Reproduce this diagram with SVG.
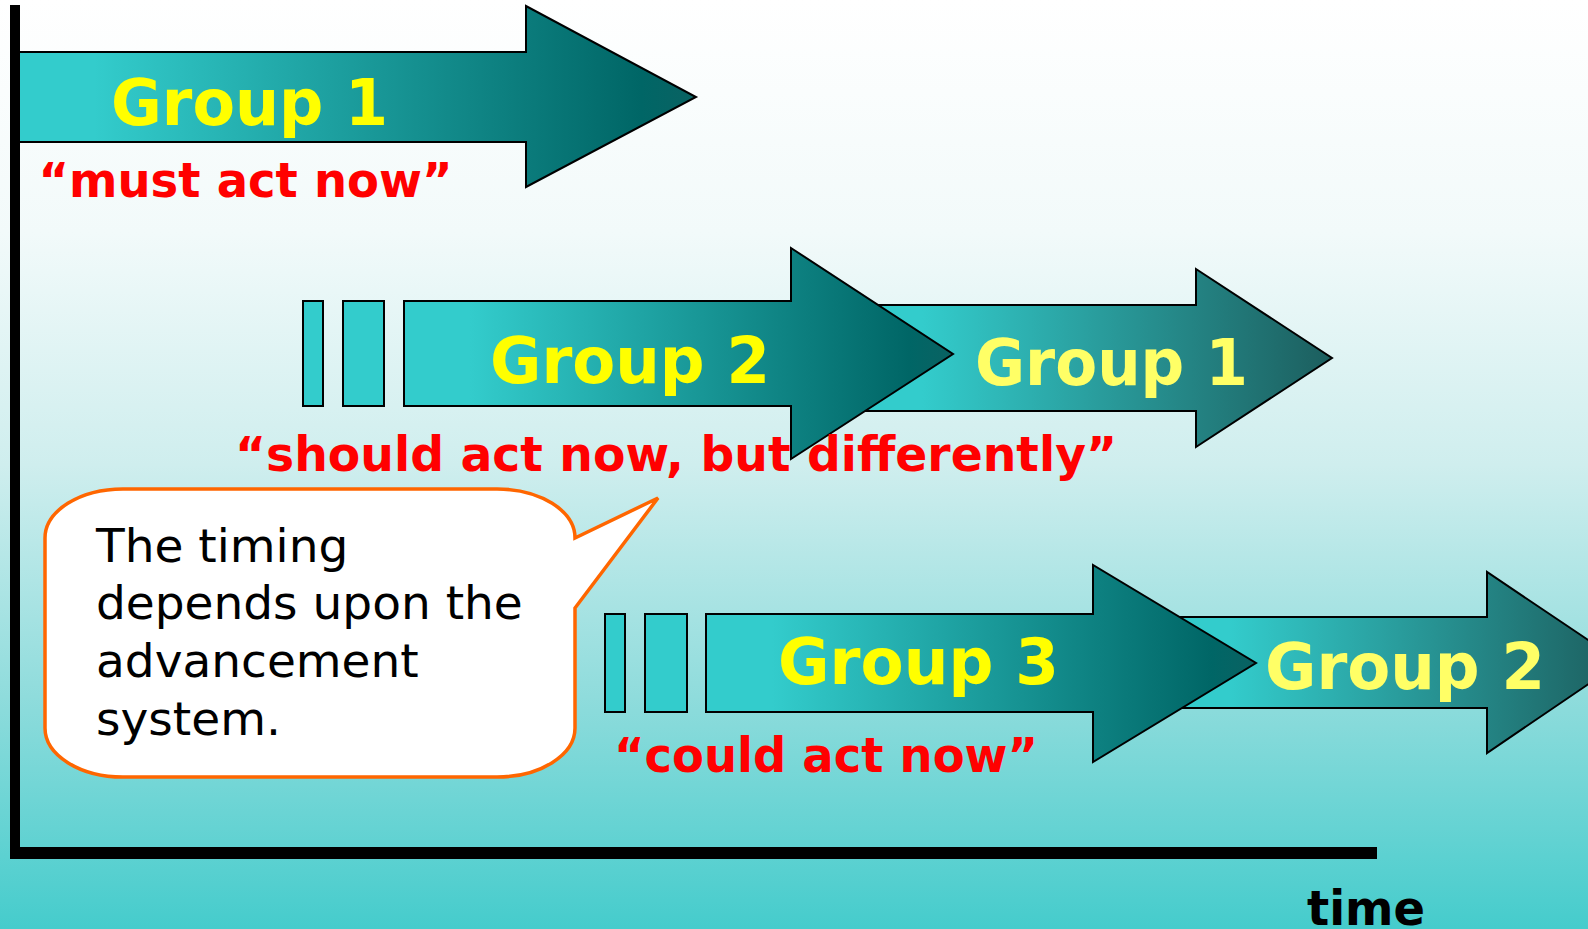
<svg xmlns="http://www.w3.org/2000/svg" width="1588" height="929" viewBox="0 0 1588 929">
<defs>
<linearGradient id="bg" x1="0" y1="0" x2="0" y2="1">
<stop offset="0" stop-color="#ffffff"/>
<stop offset="0.25" stop-color="#f2fafa"/>
<stop offset="0.5" stop-color="#cfeeee"/>
<stop offset="0.75" stop-color="#8fdcdc"/>
<stop offset="1" stop-color="#45cccc"/>
</linearGradient>
<linearGradient id="gA" x1="0" y1="0" x2="1" y2="0">
<stop offset="0" stop-color="#33cccc"/>
<stop offset="0.12" stop-color="#33cccc"/>
<stop offset="0.92" stop-color="#006666"/>
<stop offset="1" stop-color="#0a6262"/>
</linearGradient>
<linearGradient id="gB" x1="0" y1="0" x2="1" y2="0">
<stop offset="0" stop-color="#33cccc"/>
<stop offset="0.15" stop-color="#33cccc"/>
<stop offset="1" stop-color="#1c5e5e"/>
</linearGradient>
<style>
.arrA{fill:url(#gA);stroke:#000;stroke-width:2;stroke-linejoin:miter}
.arrB{fill:url(#gB);stroke:#000;stroke-width:2;stroke-linejoin:miter}
.bar{fill:#33cccc;stroke:#000;stroke-width:2}
.grp{font-family:"DejaVu Sans",Verdana,sans-serif;font-weight:bold;font-size:64px;fill:#ffff00}
.grp2{font-family:"DejaVu Sans",Verdana,sans-serif;font-weight:bold;font-size:64px;fill:#ffff66}
.red{font-family:"DejaVu Sans",Verdana,sans-serif;font-weight:bold;font-size:48px;fill:#ff0000}
.note{font-family:"DejaVu Sans",Tahoma,sans-serif;font-size:47px;fill:#000}
.axis{fill:#000}
</style>
</defs>
<rect x="0" y="0" width="1588" height="929" fill="url(#bg)"/>

<g id="arrow-group1-top">
<polygon class="arrA" points="12,52 526,52 526,6 696,97 526,187 526,142 12,142"/>
<text class="grp" x="111" y="125" textLength="277" lengthAdjust="spacingAndGlyphs">Group 1</text>
</g>

<g id="arrow-group1-mid">
<polygon class="arrB" points="850,305 1196,305 1196,269 1332,358 1196,447 1196,411 850,411"/>
<text class="grp2" x="975" y="385" textLength="273" lengthAdjust="spacingAndGlyphs">Group 1</text>
</g>

<g id="arrow-group2-mid">
<rect class="bar" x="303" y="301" width="20" height="105"/>
<rect class="bar" x="343" y="301" width="41" height="105"/>
<polygon class="arrA" points="404,301 791,301 791,248 953,354 791,459 791,406 404,406"/>
<text class="grp" x="490" y="383" textLength="280" lengthAdjust="spacingAndGlyphs">Group 2</text>
</g>

<g id="arrow-group2-low">
<polygon class="arrB" points="1160,617 1487,617 1487,572 1621,662 1487,753 1487,708 1160,708"/>
<text class="grp2" x="1265" y="689" textLength="280" lengthAdjust="spacingAndGlyphs">Group 2</text>
</g>

<g id="arrow-group3-low">
<rect class="bar" x="605" y="614" width="20" height="98"/>
<rect class="bar" x="645" y="614" width="42" height="98"/>
<polygon class="arrA" points="706,614 1093,614 1093,565 1256,663 1093,762 1093,712 706,712"/>
<text class="grp" x="778" y="684" textLength="281" lengthAdjust="spacingAndGlyphs">Group 3</text>
</g>

<g id="label-must">
<text class="red" x="38.5" y="197" textLength="414" lengthAdjust="spacingAndGlyphs">“must act now”</text>
</g>
<g id="label-should">
<text class="red" x="235" y="471" textLength="882" lengthAdjust="spacingAndGlyphs">“should act now, but differently”</text>
</g>
<g id="label-could">
<text class="red" x="614" y="772" textLength="424" lengthAdjust="spacingAndGlyphs">“could act now”</text>
</g>

<g id="callout">
<path d="M123,489 H497 A78,49 0 0 1 575,538 L658,498 L575,608 V728 A78,49 0 0 1 497,777 H123 A78,49 0 0 1 45,728 V538 A78,49 0 0 1 123,489 Z" fill="#ffffff" stroke="#ff6600" stroke-width="3.5" stroke-linejoin="miter"/>
<text class="note" x="96" y="562">The timing</text>
<text class="note" x="96" y="619">depends upon the</text>
<text class="note" x="96" y="677">advancement</text>
<text class="note" x="96" y="735">system.</text>
</g>

<g id="connectors">
<rect class="axis" x="10" y="5" width="10" height="854"/>
<rect class="axis" x="10" y="847" width="1367" height="12"/>
</g>

<g id="label-time">
<text class="red" style="fill:#000" x="1307" y="925" textLength="118" lengthAdjust="spacingAndGlyphs">time</text>
</g>
</svg>
